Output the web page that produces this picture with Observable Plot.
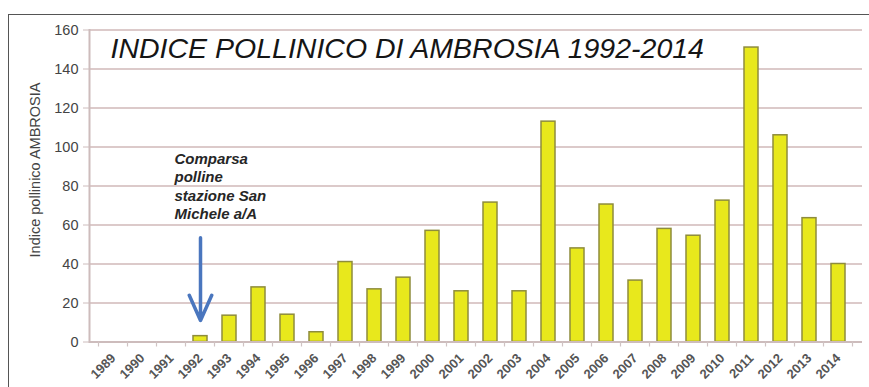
<!DOCTYPE html>
<html>
<head>
<meta charset="utf-8">
<script src="https://cdn.jsdelivr.net/npm/d3@7"></script>
<script src="https://cdn.jsdelivr.net/npm/@observablehq/plot@0.6"></script>
<style>
  body { margin: 0; background: #fff; }
  #wrap { position: relative; width: 869px; height: 387px; overflow: hidden; }
  #wrap .frame {
    position: absolute; left: 8px; top: 14px; right: -4px; bottom: -4px;
    border-left: 1.5px solid #555; border-top: 1.5px solid #555;
    pointer-events: none;
  }
  #wrap svg { display: block; }
</style>
</head>
<body>
<div id="wrap"><div class="frame"></div></div>
<script>
// Years on the category axis
const years = ["1989","1990","1991","1992","1993","1994","1995","1996","1997","1998","1999","2000","2001",
               "2002","2003","2004","2005","2006","2007","2008","2009","2010","2011","2012","2013","2014"];
// Ambrosia pollen index per year (no measurements before 1992)
const pollenIndex = [null,null,null,3,13.5,28,14,5,41,27,33,57,26,
                     71.5,26,113,48,70.5,31.5,58,54.5,72.5,151,106,63.5,40];
const yTicks = [0,20,40,60,80,100,120,140,160];

const titleText = "INDICE POLLINICO DI AMBROSIA 1992-2014";
const yLabel = "Indice pollinico AMBROSIA";
const noteLines = ["Comparsa", "polline", "stazione San", "Michele a/A"];
const noteYear = "1992";

const rows = years.map((year, i) => ({year, value: pollenIndex[i]})).filter(d => d.value != null);

const font = "'Liberation Sans', Arial, sans-serif";
const bandPad = 0.52;

// Small separator ticks between the year bands, below the axis line
function bandSeparators(index, scales, values, dims) {
  const x = scales.x;
  const step = x(years[1]) - x(years[0]);
  const bw = typeof x.bandwidth === "function" ? x.bandwidth() : step * (1 - bandPad);
  const y0 = dims.height - dims.marginBottom;
  const g = d3.create("svg:g").attr("stroke", "#cfc3c3").attr("stroke-width", 1.2);
  const xs = years.map(y => x(y) - (step - bw) / 2);
  xs.push(x(years[years.length - 1]) + bw + (step - bw) / 2);
  for (const bx of xs) g.append("line").attr("x1", bx).attr("x2", bx).attr("y1", y0).attr("y2", y0 + 5);
  return g.node();
}

// Annotation next to the arrow, one text mark per line
const noteMarks = noteLines.map((line, i) =>
  Plot.text([{year: noteYear, y: 97}], {
    x: "year", y: "y", text: () => line, dx: -26, dy: i * 18.5,
    fontSize: 15, fontStyle: "italic", fontWeight: "bold", fill: "#262626",
    textAnchor: "start", lineAnchor: "top"
  })
);

const chart = Plot.plot({
  width: 869,
  height: 387,
  marginLeft: 89,
  marginRight: 7,
  marginTop: 29.5,
  marginBottom: 45.5,
  style: {fontFamily: font, background: "transparent", overflow: "visible"},
  x: {type: "band", domain: years, paddingInner: bandPad, paddingOuter: bandPad / 2},
  y: {domain: [0, 160]},
  marks: [
    Plot.ruleY(yTicks.filter(d => d > 0), {stroke: "#dccaca", strokeWidth: 2}),
    Plot.barY(rows, {x: "year", y: "value", fill: "#e8e81c", stroke: "#8e8c3c", strokeWidth: 1.5}),
    Plot.ruleY([0], {stroke: "#cdbcbc", strokeWidth: 2}),
    Plot.frame({anchor: "left", stroke: "#cdbcbc", strokeWidth: 2}),
    bandSeparators,
    Plot.axisY({ticks: yTicks, tickSize: 6, tickPadding: 5, fontSize: 14.5, fill: "#444", stroke: "#cdbcbc", label: null}),
    Plot.axisX({tickRotate: -45, tickSize: 0, tickPadding: 14, fontSize: 13, fontWeight: "bold", fill: "#555", label: null}),
    Plot.text([yLabel], {frameAnchor: "left", rotate: -90, dx: -54, dy: -16, fontSize: 14.5, fill: "#444", textAnchor: "middle", lineAnchor: "middle"}),
    Plot.text([titleText], {frameAnchor: "top-left", dx: 21, dy: 18.5, fontSize: 28.5, fontStyle: "italic", fill: "#151515", textAnchor: "start", lineAnchor: "middle"}),
    ...noteMarks,
    Plot.arrow([{year: noteYear, y1: 53.5, y2: 11}], {x: "year", y1: "y1", y2: "y2", stroke: "#4a76be", strokeWidth: 3.5, headLength: 15, headAngle: 48})
  ]
});
document.getElementById("wrap").prepend(chart);
</script>
</body>
</html>
